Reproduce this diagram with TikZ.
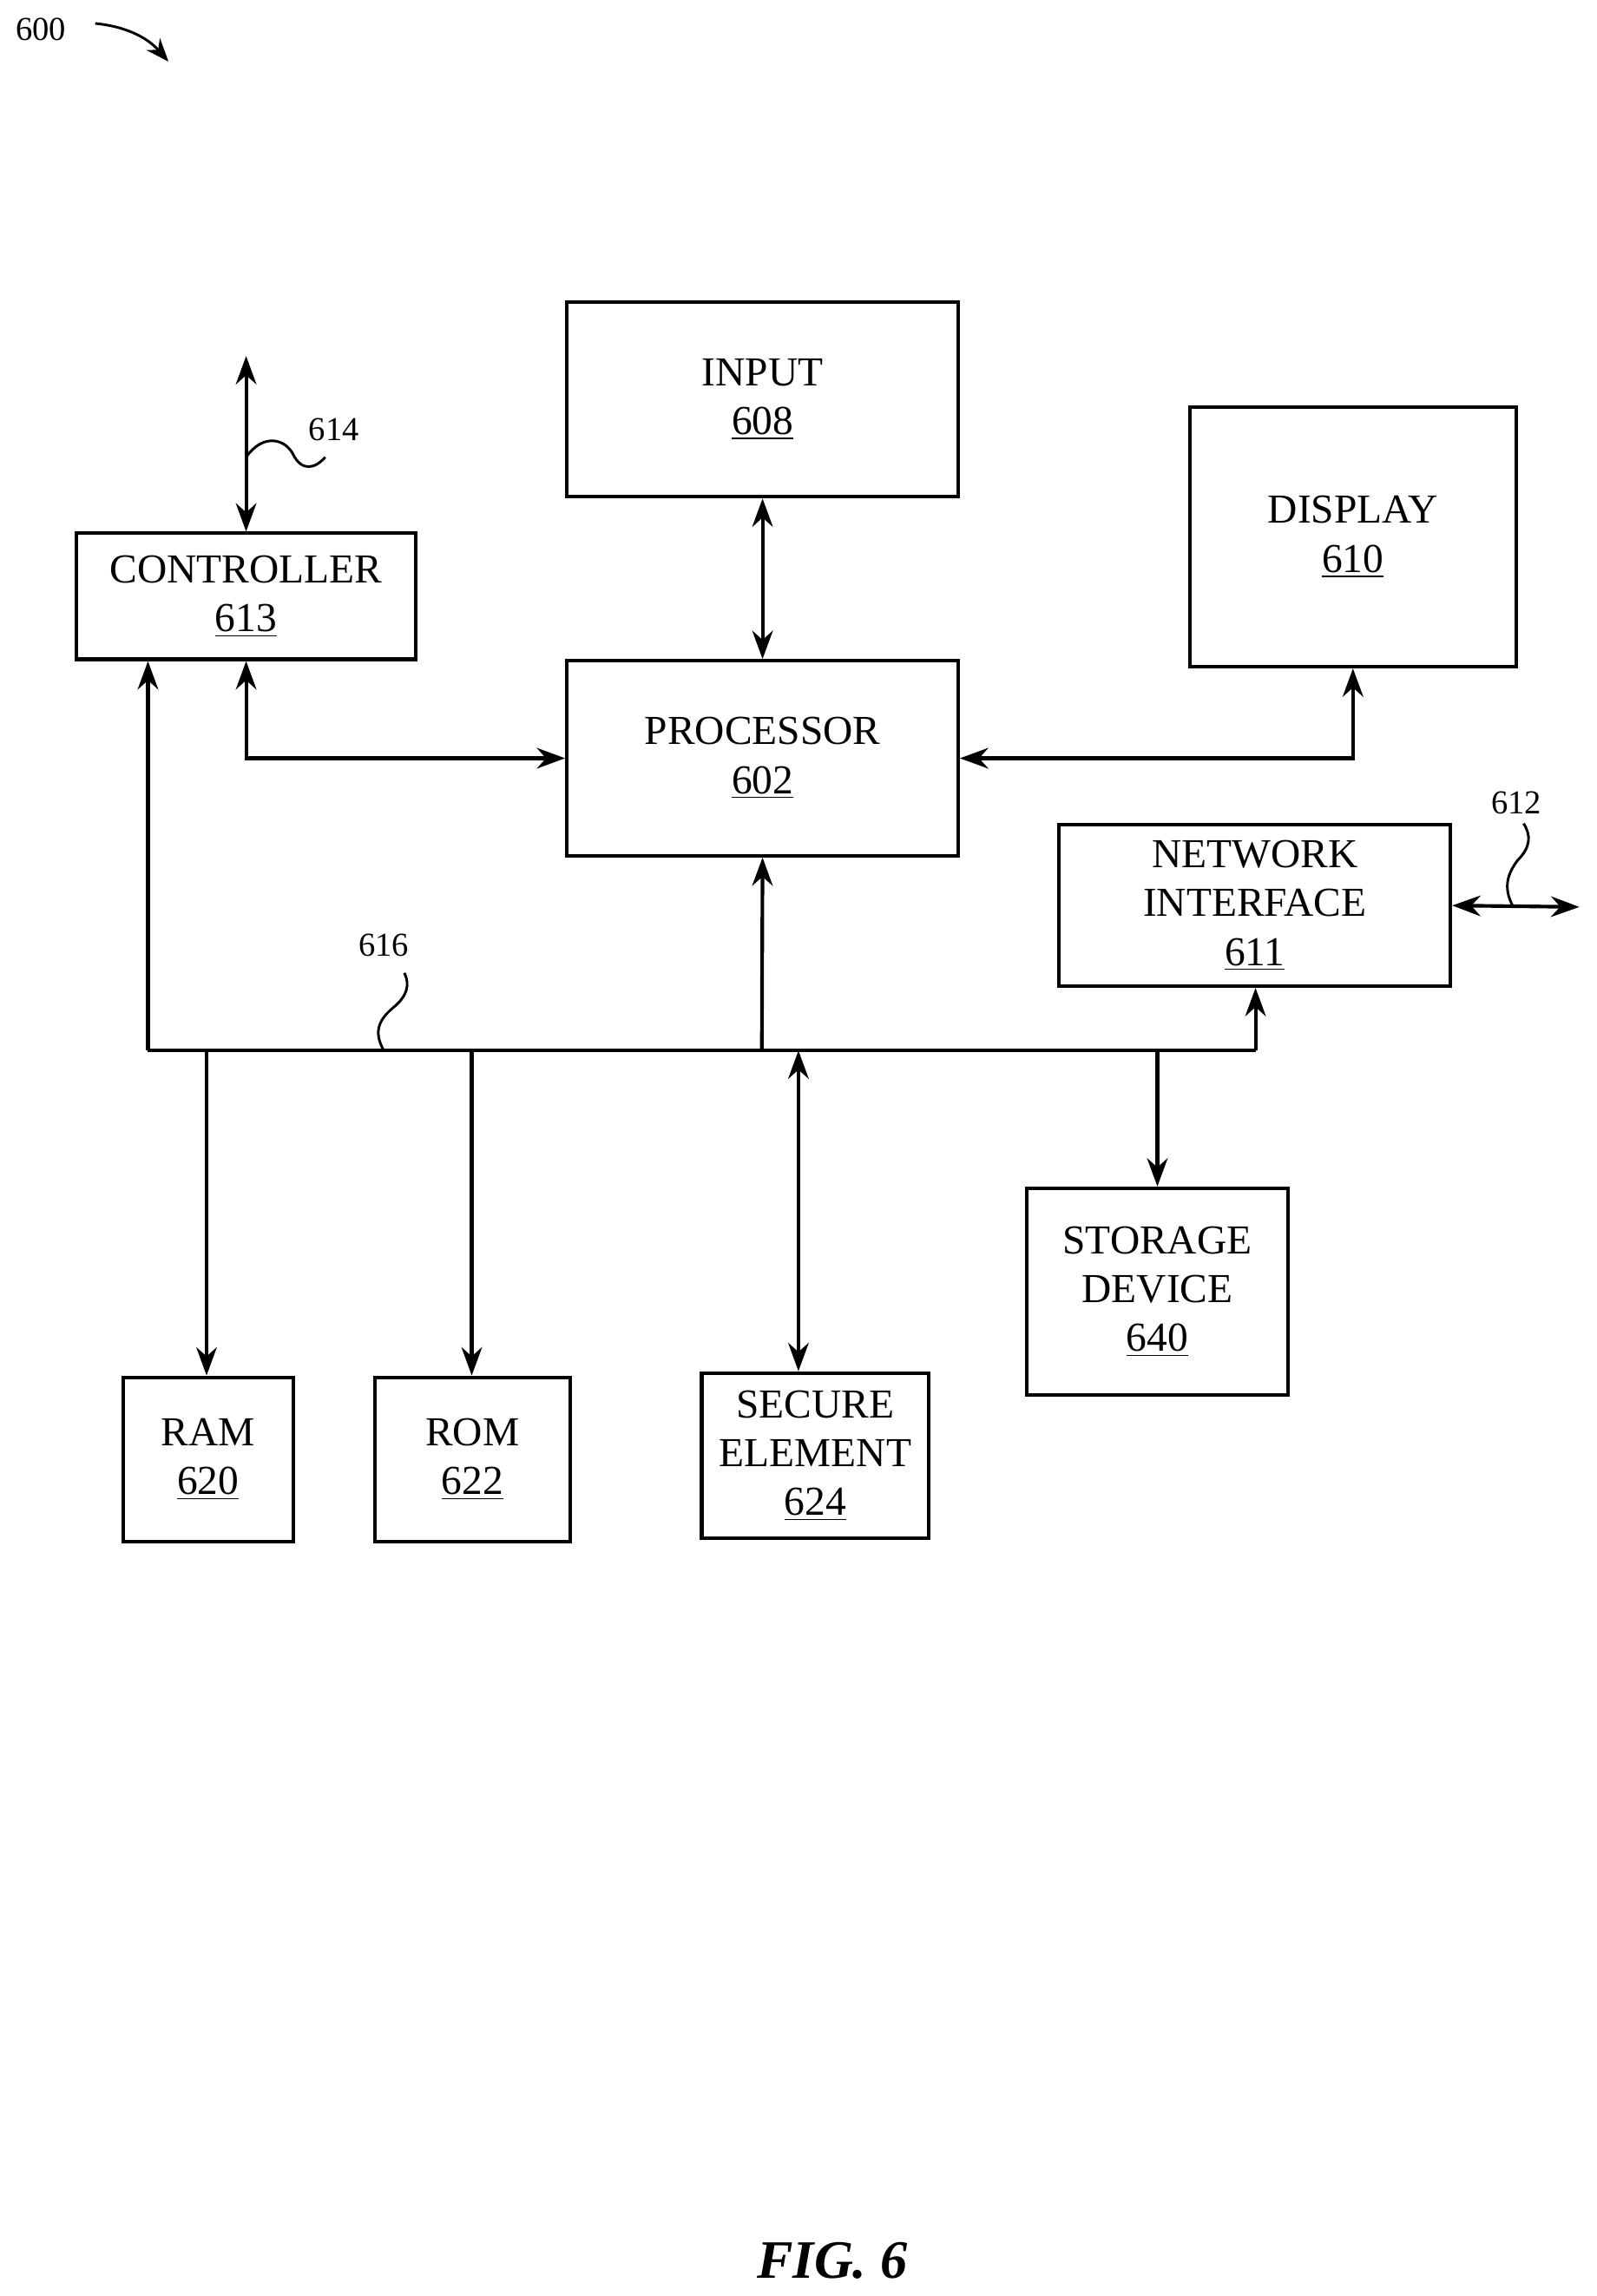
\documentclass[tikz,border=0pt]{standalone}
\usepackage{fontspec}
\setmainfont{Liberation Serif}
\usetikzlibrary{arrows.meta}
\begin{document}
\begin{tikzpicture}[x=0.02cm,y=-0.02cm,
  box/.style={draw, line width=1.4pt, align=center, inner sep=0pt, font=\fontsize{16}{19}\selectfont},
  conn/.style={line width=1.4pt, -{Stealth[length=11pt,width=8pt]}},
  dconn/.style={line width=1.4pt, {Stealth[length=11pt,width=8pt]}-{Stealth[length=11pt,width=8pt]}},
  ref/.style={font=\fontsize{13}{15}\selectfont}]
\useasboundingbox (0,0) rectangle (1090,1567);
\node (input) [box, minimum width=267*0.02cm, minimum height=133*0.02cm] at (520.5,272.5) {INPUT\\\underline{608}};
\node (ctrl) [box, minimum width=232*0.02cm, minimum height=86*0.02cm] at (168,407) {CONTROLLER\\\underline{613}};
\node (disp) [box, minimum width=223*0.02cm, minimum height=177*0.02cm] at (923.5,366.5) {DISPLAY\\\underline{610}};
\node (proc) [box, minimum width=267*0.02cm, minimum height=133*0.02cm] at (520.5,517.5) {PROCESSOR\\\underline{602}};
\node (net) [box, minimum width=267*0.02cm, minimum height=110*0.02cm] at (856.5,618) {NETWORK\\INTERFACE\\\underline{611}};
\node (stor) [box, minimum width=178*0.02cm, minimum height=141*0.02cm] at (790,881.5) {STORAGE\\DEVICE\\\underline{640}};
\node (ram) [box, minimum width=116*0.02cm, minimum height=112*0.02cm] at (142,996) {RAM\\\underline{620}};
\node (rom) [box, minimum width=133*0.02cm, minimum height=112*0.02cm] at (322.5,996) {ROM\\\underline{622}};
\node (sec) [box, minimum width=155*0.02cm, minimum height=113*0.02cm] at (556.5,993.5) {SECURE\\ELEMENT\\\underline{624}};
% bus
\coordinate (busL) at (101,717);
\coordinate (busR) at (857,717);
\draw[line width=1.4pt] (busL) -- (busR);
\draw[conn] (busL) -- (ctrl.south -| busL);
\draw[conn] (520,717) -- (proc.south);
\draw[conn] (busR) -- (net.south -| busR);
\draw[conn] (141,717) -- (ram.north -| 141,0);
\draw[conn] (322,717) -- (rom.north -| 322,0);
\draw[dconn] (545,717) -- (sec.north -| 545,0);
\draw[conn] (790,717) -- (stor.north);
% processor links
\draw[dconn] (input.south) -- (proc.north);
\draw[dconn] (ctrl.south) |- (proc.west);
\draw[dconn] (proc.east) -| (disp.south);
\coordinate (ctop) at (168,243);
\draw[dconn] (ctop) -- (ctrl.north);
\coordinate (nend) at (1078,619);
\draw[dconn] (net.east) -- (nend);
% reference squiggles
\draw[line width=1pt] (168,312) .. controls (180,295) and (195,300) .. (200,310) .. controls (206,322) and (215,320) .. (222,312);
\node[ref] (r614) at (228,293) {614};
\draw[line width=1pt] (1033,619) .. controls (1025,605) and (1030,595) .. (1036,587) .. controls (1045,578) and (1045,570) .. (1040,562);
\node[ref] (r612) at (1035,548) {612};
\draw[line width=1pt] (262,717) .. controls (254,703) and (260,695) .. (268,688) .. controls (278,680) and (280,672) .. (276,664);
\node[ref] (r616) at (262,645) {616};
\node[ref] (r600) at (28,20) {600};
\coordinate (a600) at (115,42);
\draw[line width=1pt, -{Stealth[length=9pt,width=7pt]}] (65,16) .. controls (85,18) and (100,25) .. (a600);
\node (fig) [font=\fontsize{21}{25}\selectfont\bfseries\itshape] at (568,1543) {FIG. 6};
\end{tikzpicture}
\end{document}
